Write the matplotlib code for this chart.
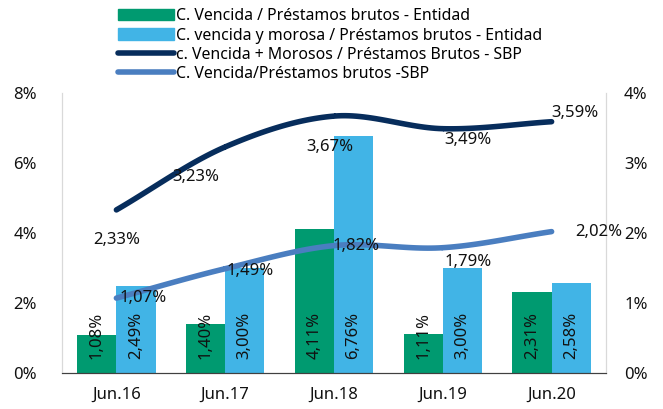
import numpy as np
import matplotlib
matplotlib.use("Agg")
import matplotlib.pyplot as plt
from matplotlib.lines import Line2D
from matplotlib.patches import Patch

categories = ["Jun.16", "Jun.17", "Jun.18", "Jun.19", "Jun.20"]
vencida_entidad = [1.08, 1.40, 4.11, 1.11, 2.31]
morosa_entidad = [2.49, 3.00, 6.76, 3.00, 2.58]
vencida_morosos_sbp = [2.33, 3.23, 3.67, 3.49, 3.59]
vencida_sbp = [1.07, 1.49, 1.82, 1.79, 2.02]

names = ["C. Vencida / Préstamos brutos - Entidad",
         "C. vencida y morosa / Préstamos brutos - Entidad",
         "c. Vencida + Morosos / Préstamos Brutos - SBP",
         "C. Vencida/Préstamos brutos -SBP"]

GREEN = "#009a70"
LBLUE = "#41b4e6"
NAVY = "#072d5c"
MBLUE = "#4a7ec0"

plt.rcParams['font.family'] = ['Noto Sans', 'DejaVu Sans']


def fmt(v):
    return f"{v:.2f}".replace(".", ",") + "%"


def catmull(x, y, n=30):
    x = np.asarray(x, float); y = np.asarray(y, float)
    px = np.concatenate([[2 * x[0] - x[1]], x, [2 * x[-1] - x[-2]]])
    py = np.concatenate([[2 * y[0] - y[1]], y, [2 * y[-1] - y[-2]]])
    xs, ys = [], []
    for i in range(1, len(px) - 2):
        t = np.linspace(0, 1, n)
        for p, out in ((px, xs), (py, ys)):
            p0, p1, p2, p3 = p[i - 1], p[i], p[i + 1], p[i + 2]
            out.extend(0.5 * ((2 * p1) + (-p0 + p2) * t + (2 * p0 - 5 * p1 + 4 * p2 - p3) * t ** 2
                              + (-p0 + 3 * p1 - 3 * p2 + p3) * t ** 3))
    return np.array(xs), np.array(ys)


fig = plt.figure(figsize=(6.63, 4.09), dpi=100)
ax = fig.add_axes([62 / 663, 1 - 373 / 409, 544 / 663, 280 / 409])
ax2 = ax.twinx()

x = np.arange(len(categories))
w = 0.36
b1 = ax.bar(x - w / 2, vencida_entidad, w, color=GREEN)
b2 = ax.bar(x + w / 2, morosa_entidad, w, color=LBLUE)
for bars, vals in ((b1, vencida_entidad), (b2, morosa_entidad)):
    for r, v in zip(bars, vals):
        ax.text(r.get_x() + r.get_width() / 2, 0.40, fmt(v), rotation=90,
                ha='center', va='bottom', fontsize=12, color='#111111')

ax.set_xlim(-0.5, 4.5)
ax.set_ylim(0, 8)
ax.set_yticks([0, 2, 4, 6, 8])
ax.set_yticklabels([f"{t}%" for t in [0, 2, 4, 6, 8]])
ax.set_xticks(x)
ax.set_xticklabels(categories)

sx, sy = catmull(x, vencida_morosos_sbp)
ax2.plot(sx, sy, color=NAVY, lw=4, solid_capstyle='round')
sx, sy = catmull(x, vencida_sbp)
ax2.plot(sx, sy, color=MBLUE, lw=4, solid_capstyle='round')
ax2.set_ylim(0, 4)
ax2.set_yticks([0, 1, 2, 3, 4])
ax2.set_yticklabels([f"{t}%" for t in [0, 1, 2, 3, 4]])

# line labels (offsets in points)
navy_off = [(0, -22), (-21, -22), (-3, -22), (18, -8), (17, 6)]
mblue_off = [(19, 0), (18, -2), (16, 0), (18, -10), (34, 0)]
for xi, v, o in zip(x, vencida_morosos_sbp, navy_off):
    ax2.annotate(fmt(v), (xi, v), xytext=o, textcoords='offset points',
                 ha='center', va='center', fontsize=12, color='#111111')
for xi, v, o in zip(x, vencida_sbp, mblue_off):
    ax2.annotate(fmt(v), (xi, v), xytext=o, textcoords='offset points',
                 ha='center', va='center', fontsize=12, color='#111111')

for a in (ax, ax2):
    a.spines['top'].set_visible(False)
    a.spines['left'].set_color('#d9d9d9')
    a.spines['right'].set_color('#d9d9d9')
    a.spines['bottom'].set_color('#404040')
    a.tick_params(length=0, labelsize=12, colors='#111111')
ax.tick_params(axis='y', pad=18)
ax2.tick_params(axis='y', pad=13)
ax.tick_params(axis='x', pad=10)

handles = [Patch(color=GREEN), Patch(color=LBLUE),
           Line2D([], [], color=NAVY, lw=4, solid_capstyle='round'),
           Line2D([], [], color=MBLUE, lw=4, solid_capstyle='round')]
fig.legend(handles, names, loc='upper left', bbox_to_anchor=(112 / 663, 1 - 2 / 409),
           frameon=False, fontsize=11.4, handlelength=3.5, handleheight=0.7,
           handletextpad=0.15, labelspacing=0.2, borderaxespad=0)

fig.savefig("out.png", dpi=100)
